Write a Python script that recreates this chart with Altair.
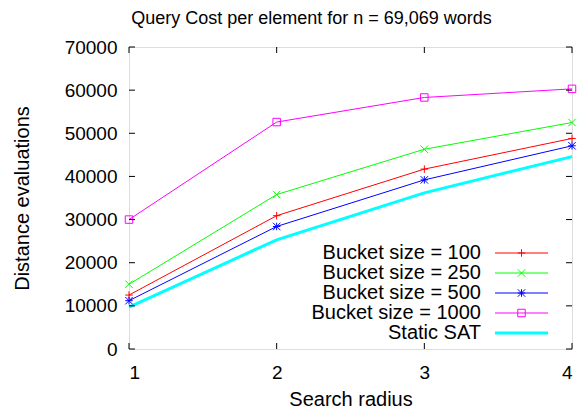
import altair as alt
import pandas as pd

radius = [1, 2, 3, 4]
series_names = ["Bucket size = 100", "Bucket size = 250", "Bucket size = 500",
                "Bucket size = 1000", "Static SAT"]
b100 = [12500, 30900, 41700, 48800]
b250 = [15000, 35800, 46300, 52500]
b500 = [11200, 28400, 39200, 47100]
b1000 = [30000, 52600, 58300, 60300]
static_sat = [9700, 25300, 36200, 44600]
colors = ["#ff0000", "#00ff00", "#0000ff", "#ff00ff", "#00ffff"]
shapes = ["M-1,0L1,0M0,-1L0,1", "M-1,-1L1,1M-1,1L1,-1",
          "M-1,0L1,0M0,-1L0,1M-1,-1L1,1M-1,1L1,-1", "square", "circle"]
y_ticks = [0, 10000, 20000, 30000, 40000, 50000, 60000, 70000]
x_ticks = [1, 2, 3, 4]

W, H = 443, 302
FONT = "Liberation Sans"
FS = 19
TFS = 20

rows = []
for name, vals in zip(series_names, [b100, b250, b500, b1000, static_sat]):
    for r, v in zip(radius, vals):
        rows.append({"series": name, "x": r, "y": v})
df = pd.DataFrame(rows)

xs = alt.Scale(domain=[1, 4], nice=False, zero=False)
ys = alt.Scale(domain=[0, 70000], nice=False)
cs = alt.Scale(domain=series_names, range=colors)
ss = alt.Scale(domain=series_names, range=shapes)

base = alt.Chart(df)

x_axis = alt.Axis(values=x_ticks, title="Search radius", format="d",
                  grid=False, ticks=False, domain=False, labelPadding=14, labelFont=FONT,
                  labelFontSize=FS, labelColor="black", titleFont=FONT, titleFontSize=TFS,
                  titleFontWeight="normal", titleColor="black", titleX=W / 2, titleY=50,
                  titleBaseline="middle")
y_axis = alt.Axis(values=y_ticks, title="Distance evaluations",
                  format="d", grid=False, ticks=False, domain=False, labelPadding=12,
                  labelFont=FONT, labelFontSize=FS, labelColor="black", titleFont=FONT,
                  titleFontSize=TFS, titleFontWeight="normal", titleColor="black",
                  titleX=-107, titleY=H / 2, titleBaseline="middle", titleAngle=-90)

lines = base.transform_filter(alt.datum.series != "Static SAT").mark_line(strokeWidth=1).encode(
    x=alt.X("x:Q", scale=xs, axis=x_axis),
    y=alt.Y("y:Q", scale=ys, axis=y_axis),
    color=alt.Color("series:N", scale=cs, legend=None),
)
sat_line = base.transform_filter(alt.datum.series == "Static SAT").mark_line(strokeWidth=3).encode(
    x=alt.X("x:Q", scale=xs),
    y=alt.Y("y:Q", scale=ys),
    color=alt.Color("series:N", scale=cs, legend=None),
)

points = base.transform_filter(alt.datum.series != "Static SAT").mark_point(
    filled=False, strokeWidth=1, size=56, opacity=1).encode(
    x=alt.X("x:Q", scale=xs),
    y=alt.Y("y:Q", scale=ys),
    color=alt.Color("series:N", scale=cs, legend=None),
    shape=alt.Shape("series:N", scale=ss, legend=None),
)

# inward mirrored ticks
ytk = pd.DataFrame({"v": y_ticks})
xtk = pd.DataFrame({"v": x_ticks})
ytl = alt.Chart(ytk).mark_rule(color="black", strokeWidth=1).encode(
    y=alt.Y("v:Q", scale=ys), x=alt.value(0), x2=alt.value(6))
ytr = alt.Chart(ytk).mark_rule(color="black", strokeWidth=1).encode(
    y=alt.Y("v:Q", scale=ys), x=alt.value(W - 6), x2=alt.value(W))
xtb = alt.Chart(xtk).mark_rule(color="black", strokeWidth=1).encode(
    x=alt.X("v:Q", scale=xs), y=alt.value(H - 6), y2=alt.value(H))
xtt = alt.Chart(xtk).mark_rule(color="black", strokeWidth=1).encode(
    x=alt.X("v:Q", scale=xs), y=alt.value(0), y2=alt.value(6))

# legend (gnuplot style, inside bottom-right)
leg = pd.DataFrame({"series": series_names, "i": list(range(len(series_names)))})
leg_base = alt.Chart(leg).transform_calculate(ly="206 + datum.i * 20")
leg_text = leg_base.mark_text(align="right", baseline="middle", font=FONT, fontSize=20,
                              color="black").encode(
    x=alt.value(352), y=alt.Y("ly:Q", scale=None), text="series:N")
leg_line = leg_base.mark_rule().encode(
    x=alt.value(366), x2=alt.value(419), y=alt.Y("ly:Q", scale=None),
    color=alt.Color("series:N", scale=cs, legend=None),
    strokeWidth=alt.condition(alt.datum.series == "Static SAT", alt.value(3), alt.value(1)))
leg_pt = leg_base.transform_filter(alt.datum.series != "Static SAT").mark_point(
    filled=False, strokeWidth=1, size=56, opacity=1).encode(
    x=alt.value(392.5), y=alt.Y("ly:Q", scale=None),
    color=alt.Color("series:N", scale=cs, legend=None),
    shape=alt.Shape("series:N", scale=ss, legend=None))

chart = alt.layer(sat_line, lines, points, ytl, ytr, xtb, xtt, leg_line, leg_pt, leg_text).properties(
    width=W, height=H,
    title=alt.TitleParams("Query Cost per element for n = 69,069 words", font=FONT,
                          fontSize=18, fontWeight="normal", color="black", anchor="middle",
                          offset=10, dx=-39),
    autosize=alt.AutoSizeParams(type="none"),
    padding={"left": 121, "top": 39, "right": 8, "bottom": 60},
).configure_view(stroke="black", strokeWidth=1).configure(background="white")

chart.save("out.html", embed_options={"renderer": "svg", "actions": False})
